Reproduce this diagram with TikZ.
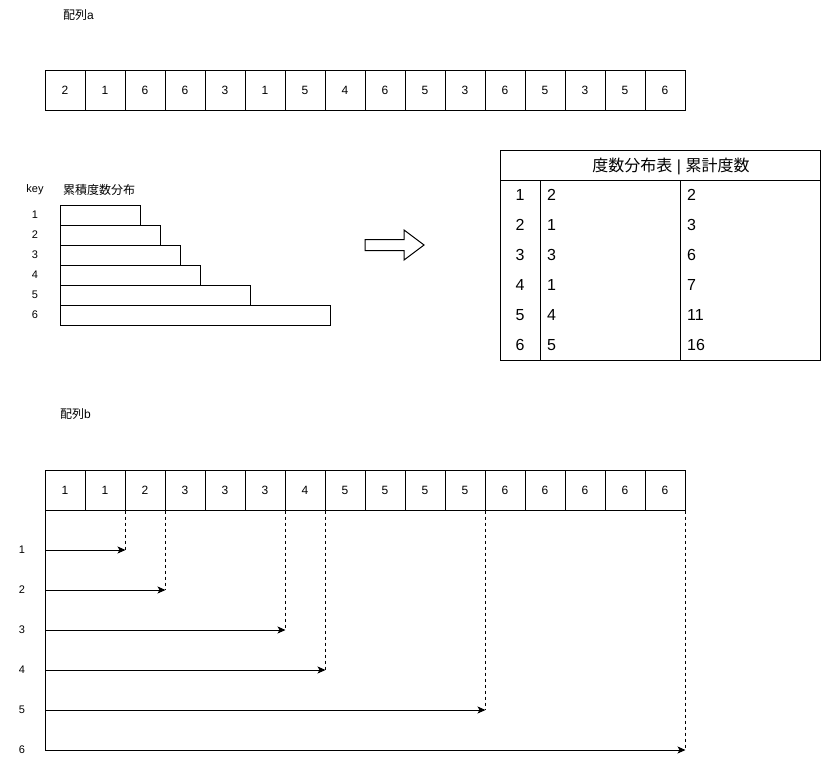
\documentclass[tikz,border=0pt]{standalone}
\usepackage{fontspec}
\setmainfont{Liberation Sans}
\newfontfamily\jp{Noto Sans CJK JP}
\usetikzlibrary{arrows.meta}
\tikzset{
  cell/.style={draw, line width=1pt, minimum width=40pt, minimum height=40pt, inner sep=0pt, font=\fontsize{12}{14}\selectfont},
  bar/.style={draw, line width=1pt, minimum height=20pt, inner sep=0pt, anchor=north west},
  small/.style={inner sep=0pt, font=\fontsize{11}{13}\selectfont},
  jlabel/.style={inner sep=0pt, anchor=west, font=\fontsize{12}{14}\selectfont},
  big/.style={inner sep=0pt, font=\fontsize{16}{19}\selectfont},
  thin/.style={line width=1pt},
  dashline/.style={line width=1pt, dash pattern=on 3pt off 3pt},
  arr/.style={line width=1pt, -{Stealth[length=8pt,width=7pt,inset=2pt]}}
}
\begin{document}
\begin{tikzpicture}[x=1pt,y=-1pt]
\useasboundingbox (0,0) rectangle (821,760);
% array a
\node[jlabel] (la) at (63,15) {{\jp 配列}a};
\foreach \v [count=\i] in {2,1,6,6,3,1,5,4,6,5,3,6,5,3,5,6}
  \node[cell] (a\i) at ({25+40*\i},90) {\v};
% cumulative bars
\node[small] (key) at (35,190) {key};
\node[jlabel] (cum) at (63,190) {\jp 累積度数分布};
\foreach \w [count=\i] in {80,100,120,140,190,270} {
  \node[bar, minimum width=\w pt] (k\i) at (60,{205+20*(\i-1)}) {};
  \node[small] (kl\i) at (35,{215+20*(\i-1)}) {\i};
}
% block arrow
\draw[thin] (365,239.5) -- (404,239.5) -- (404,230) -- (424,245) -- (404,260) -- (404,250.5) -- (365,250.5) -- cycle;
% table
\draw[thin] (500,150) rectangle (820,360);
\draw[thin] (500,180) -- (820,180);
\draw[thin] (540,180) -- (540,360);
\draw[thin] (680,180) -- (680,360);
\node[big] (th) at (671,166.5) {{\jp 度数分布表} | {\jp 累計度数}};
\foreach \f/\c [count=\i] in {2/2,1/3,3/6,1/7,4/11,5/16} {
  \node[big] (tk\i) at (520,{195+30*(\i-1)}) {\i};
  \node[big, anchor=west] (tf\i) at (547,{195+30*(\i-1)}) {\f};
  \node[big, anchor=west] (tc\i) at (687,{195+30*(\i-1)}) {\c};
}
% array b
\node[jlabel] (lb) at (60,414) {{\jp 配列}b};
\foreach \v [count=\i] in {1,1,2,3,3,3,4,5,5,5,5,6,6,6,6,6}
  \node[cell] (b\i) at ({25+40*\i},490) {\v};
\coordinate (top) at (45,510);
\coordinate (bot) at (45,750);
\draw[thin] (top) -- (bot);
\foreach \j/\yy [count=\i] in {2/550,3/590,6/630,7/670,11/710,16/750} {
  \node[small] (bl\i) at (22,\yy) {\i};
  \coordinate (s\i) at (45,\yy);
  \coordinate (e\i) at (b\j.south east |- s\i);
  \draw[dashline] (b\j.south east) -- (e\i);
  \draw[arr] (s\i) -- (e\i);
}
\end{tikzpicture}
\end{document}
